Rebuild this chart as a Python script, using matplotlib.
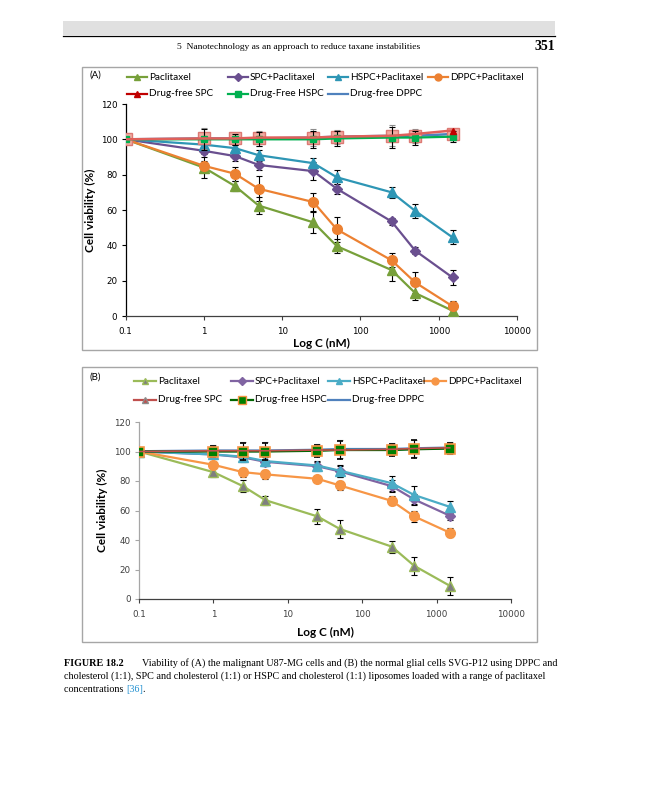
import matplotlib
matplotlib.use('Agg')
import matplotlib.pyplot as plt
from matplotlib.lines import Line2D
from matplotlib.patches import Rectangle

W, H = 647, 800

# concentrations (nM), shared by both panels
conc = [0.1, 1, 2.5, 5, 25, 50, 250, 500, 1500]

# panel A: U87-MG cells
a_ptx = [100, 84, 73.5, 62.5, 53, 39.5, 26, 13, 3]
a_ptx_err = [1, 6, 3, 5, 6, 4, 6, 4, 2]
a_spc = [100, 93.5, 90.5, 85.5, 82, 72, 53.5, 37, 21.8]
a_spc_err = [1, 2, 3, 3, 5, 3, 2, 2, 4]
a_hspc = [100, 97, 95, 91, 86.5, 78.5, 70, 59.5, 44.5]
a_hspc_err = [1, 2, 2, 3, 3, 4, 3, 4, 4]
a_dppc = [100, 85, 80.5, 72, 64.5, 49, 31.5, 19, 5.5]
a_dppc_err = [1, 3, 4, 7, 5, 7, 4, 6, 3]
a_free_spc = [100, 100.5, 100.5, 101, 101, 101.5, 102, 103, 105]
a_free_hspc = [100, 100, 100, 100, 100, 100.5, 101, 101, 101.5]
a_free_dppc = [100, 100.5, 100.5, 100.5, 101, 101.5, 102, 102, 103]
a_free_err = [1, 6, 3, 4, 5, 4, 6, 4, 3]

# panel B: SVG-P12 cells
b_ptx = [100, 86, 76.5, 67, 56, 47.5, 35.5, 22.5, 9]
b_ptx_err = [1, 3, 4, 3, 5, 6, 4, 6, 6]
b_spc = [100, 98, 96, 93, 90, 86.5, 76.5, 67.5, 56.5]
b_spc_err = [1, 2, 3, 3, 3, 4, 4, 4, 3]
b_hspc = [100, 98, 96.5, 93.5, 90.5, 87, 78.5, 70.5, 62.5]
b_hspc_err = [1, 2, 3, 3, 3, 4, 5, 6, 4]
b_dppc = [100, 91, 86, 84.5, 81.5, 77, 66.5, 56, 45]
b_dppc_err = [1, 2, 3, 3, 2, 3, 3, 4, 3]
b_free_spc = [100, 100.5, 100.5, 100.5, 101, 101, 101.5, 102, 102.5]
b_free_hspc = [100, 100, 100, 100, 100.5, 101, 101, 101.5, 102]
b_free_dppc = [100, 100.5, 100.5, 100.5, 101, 101.5, 101.5, 102, 102.5]
b_free_err = [1, 4, 6, 6, 4, 6, 4, 6, 4]

labels_a = ['Paclitaxel', 'SPC+Paclitaxel', 'HSPC+Paclitaxel', 'DPPC+Paclitaxel',
            'Drug-free SPC', 'Drug-Free HSPC', 'Drug-free DPPC']
labels_b = ['Paclitaxel', 'SPC+Paclitaxel', 'HSPC+Paclitaxel', 'DPPC+Paclitaxel',
            'Drug-free SPC', 'Drug-free HSPC', 'Drug-free DPPC']
ticks_x = [0.1, 1, 10, 100, 1000, 10000]
ticks_x_lbl = ['0.1', '1', '10', '100', '1000', '10000']
ticks_y = [0, 20, 40, 60, 80, 100, 120]

UI = ['Lato', 'DejaVu Sans']
SERIF = ['Liberation Serif', 'DejaVu Serif']


def fx(x):
    return x / W


def fy(y):
    return 1 - y / H


def px_axes(fig, x0, y0, x1, y1):
    # pixel box (top-left origin) -> figure fraction axes
    return fig.add_axes([fx(x0), fy(y1), (x1 - x0) / W, (y1 - y0) / H])


def px_box(fig, x0, y0, x1, y1, color='#a6a6a6'):
    fig.patches.append(Rectangle((fx(x0), fy(y1)), (x1 - x0) / W, (y1 - y0) / H,
                                 transform=fig.transFigure, fill=False,
                                 edgecolor=color, lw=1.0))


def legend_entry(fig, x, y, label, line_kw, mark_kw=None, hl=20):
    # excel-style legend entry: short line, marker in the middle, label after it
    fig.add_artist(Line2D([fx(x), fx(x + hl)], [fy(y)] * 2, **line_kw))
    if mark_kw:
        fig.add_artist(Line2D([fx(x + hl / 2)], [fy(y)], lw=0, **mark_kw))
    fig.text(fx(x + hl + 2), fy(y), label, fontsize=7.2, family=UI, va='center')


def style_axes(ax, axis_color, tick_color):
    ax.set_xscale('log')
    ax.set_xlim(0.1, 10000)
    ax.set_ylim(0, 120)
    ax.set_xticks(ticks_x)
    ax.set_xticklabels(ticks_x_lbl)
    ax.set_xticks([], minor=True)
    ax.set_yticks(ticks_y)
    for s in ['top', 'right']:
        ax.spines[s].set_visible(False)
    ax.spines['left'].set_color(axis_color)
    ax.spines['bottom'].set_color('#404040')
    ax.spines['left'].set_linewidth(0.9)
    ax.spines['bottom'].set_linewidth(0.9)
    ax.tick_params(axis='y', direction='out', length=3, width=0.8, color=axis_color,
                   labelsize=6.3, labelcolor=tick_color, pad=3)
    ax.tick_params(axis='x', direction='out', length=3, width=0.8, color='#404040',
                   labelsize=6.3, labelcolor=tick_color, pad=5)
    for t in ax.get_xticklabels() + ax.get_yticklabels():
        t.set_family('DejaVu Sans')
    ax.patch.set_alpha(0)


fig = plt.figure(figsize=(W / 100, H / 100), dpi=100)

# page header
fig.patches.append(Rectangle((fx(63), fy(35)), (555 - 63) / W, 14 / H,
                             transform=fig.transFigure, color='#e0e0e0', lw=0))
fig.add_artist(Line2D([fx(63), fx(555)], [fy(35.5)] * 2, color='black', lw=0.9))
fig.text(fx(299), fy(47), '5  Nanotechnology as an approach to reduce taxane instabilities',
         ha='center', va='center', fontsize=6.8, family=SERIF)
fig.text(fx(555), fy(46), '351', ha='right', va='center', fontsize=10,
         family=SERIF, weight='bold')

drug_kw = dict(ecolor='black', elinewidth=0.8, capsize=2.5, capthick=0.8, lw=1.6)

# ---------- panel A ----------
px_box(fig, 82, 67, 537, 350)
axA = px_axes(fig, 125.7, 104, 517, 316)
style_axes(axA, 'black', 'black')

axA.errorbar(conc, a_free_dppc, yerr=a_free_err, color='#4f81bd', marker='s', ms=8,
             mfc='#f2aaa2', mec='#dc7a74', ecolor='#8c8c8c', elinewidth=0.8, capsize=2.5,
             capthick=0.8, lw=1.8, zorder=5)
axA.errorbar(conc, a_free_hspc, yerr=a_free_err, color='#00b050', marker='s', ms=4.5,
             mfc='#00b050', mec='#00b050', zorder=6, **drug_kw)
axA.plot(conc, a_free_spc, color='#e0605a', lw=1.8, zorder=7)
axA.plot(conc[-1:], a_free_spc[-1:], color='#c00000', marker='^', ms=4, lw=0, zorder=7)

axA.errorbar(conc, a_ptx, yerr=a_ptx_err, color='#77a03a', marker='^', ms=7, zorder=3, **drug_kw)
axA.errorbar(conc, a_spc, yerr=a_spc_err, color='#6a4f8f', marker='D', ms=5, zorder=3, **drug_kw)
axA.errorbar(conc, a_hspc, yerr=a_hspc_err, color='#2e96b5', marker='^', ms=7, zorder=3, **drug_kw)
axA.errorbar(conc, a_dppc, yerr=a_dppc_err, color='#ec8132', marker='o', ms=7, zorder=3, **drug_kw)

axA.set_ylabel('Cell viability (%)', family=UI, weight='bold', fontsize=8.5, labelpad=3)
axA.set_xlabel('Log C (nM)', family=UI, weight='bold', fontsize=8.5, labelpad=1)

la = dict(lw=1.6)
legend_entry(fig, 127, 77, labels_a[0], dict(la, color='#77a03a'), dict(marker='^', ms=5, color='#77a03a'))
legend_entry(fig, 228, 77, labels_a[1], dict(la, color='#6a4f8f'), dict(marker='D', ms=4, color='#6a4f8f'))
legend_entry(fig, 328, 77, labels_a[2], dict(la, color='#2e96b5'), dict(marker='^', ms=5, color='#2e96b5'))
legend_entry(fig, 428, 77, labels_a[3], dict(la, color='#ec8132'), dict(marker='o', ms=5, color='#ec8132'))
legend_entry(fig, 127, 94, labels_a[4], dict(la, color='#c00000'), dict(marker='^', ms=5, color='#c00000'))
legend_entry(fig, 228, 94, labels_a[5], dict(la, color='#00b050'), dict(marker='s', ms=4.5, color='#00b050'))
legend_entry(fig, 328, 94, labels_a[6], dict(la, color='#4f81bd'))

fig.text(fx(89), fy(75), '(A)', fontsize=7, family=UI, va='center')

# ---------- panel B ----------
px_box(fig, 82, 367, 537, 642)
axB = px_axes(fig, 139, 422, 511, 599)
style_axes(axB, '#a6a6a6', '#404040')

axB.errorbar(conc, b_free_dppc, yerr=b_free_err, color='#4f81bd', lw=2.0, ecolor='#8c8c8c',
             elinewidth=0.8, capsize=2.5, capthick=0.8, zorder=4)
axB.errorbar(conc, b_free_hspc, yerr=b_free_err, color='#006600', marker='s', ms=7.5,
             mfc='#008000', mec='#f79646', mew=1.2, zorder=5, **drug_kw)
axB.plot(conc, b_free_spc, color='#c0504d', lw=1.2, zorder=6)

axB.errorbar(conc, b_ptx, yerr=b_ptx_err, color='#9bbb59', marker='^', ms=7, mfc='#7f7f7f',
             mec='#9bbb59', zorder=3, **drug_kw)
axB.errorbar(conc, b_spc, yerr=b_spc_err, color='#8064a2', marker='D', ms=5, zorder=3, **drug_kw)
axB.errorbar(conc, b_hspc, yerr=b_hspc_err, color='#4bacc6', marker='^', ms=7, zorder=3, **drug_kw)
axB.errorbar(conc, b_dppc, yerr=b_dppc_err, color='#f79646', marker='o', ms=7, zorder=3, **drug_kw)

axB.set_ylabel('Cell viability (%)', family=UI, weight='bold', fontsize=8.5, labelpad=4)
axB.set_xlabel('Log C (nM)', family=UI, weight='bold', fontsize=8.5, labelpad=6)

lb = dict(lw=1.6)
legend_entry(fig, 134, 381, labels_b[0], dict(lb, color='#9bbb59'),
             dict(marker='^', ms=5, mfc='#7f7f7f', mec='#9bbb59'), hl=22)
legend_entry(fig, 231, 381, labels_b[1], dict(lb, color='#8064a2'), dict(marker='D', ms=4, color='#8064a2'), hl=22)
legend_entry(fig, 328, 381, labels_b[2], dict(lb, color='#4bacc6'), dict(marker='^', ms=5, color='#4bacc6'), hl=22)
legend_entry(fig, 424, 381, labels_b[3], dict(lb, color='#f79646'), dict(marker='o', ms=5, color='#f79646'), hl=22)
legend_entry(fig, 134, 400, labels_b[4], dict(lb, color='#c0504d'),
             dict(marker='^', ms=5, mfc='#c0504d', mec='#8c8c8c'), hl=22)
legend_entry(fig, 231, 400, labels_b[5], dict(lb, color='#006600'),
             dict(marker='s', ms=5.5, mfc='#008000', mec='#f79646'), hl=22)
legend_entry(fig, 328, 400, labels_b[6], dict(lb, color='#4f81bd'), hl=22)

fig.text(fx(89), fy(377), '(B)', fontsize=7, family=UI, va='center')

# ---------- caption ----------
cap_fs = 7.3
fig.text(fx(64), fy(663), 'FIGURE 18.2', fontsize=cap_fs, family=SERIF, weight='bold', va='center')
fig.text(fx(142), fy(663),
         'Viability of (A) the malignant U87-MG cells and (B) the normal glial cells SVG-P12 using DPPC and',
         fontsize=cap_fs, family=SERIF, va='center')
fig.text(fx(64), fy(676),
         'cholesterol (1:1), SPC and cholesterol (1:1) or HSPC and cholesterol (1:1) liposomes loaded with a range of paclitaxel',
         fontsize=cap_fs, family=SERIF, va='center')
t3 = fig.text(fx(64), fy(689), 'concentrations ', fontsize=cap_fs, family=SERIF, va='center')
r = fig.canvas.get_renderer()
bb = t3.get_window_extent(renderer=r)
t4 = fig.text(bb.x1 / fig.bbox.width, fy(689), '[36]', fontsize=cap_fs, family=SERIF,
              va='center', color='#1f8fd0')
bb2 = t4.get_window_extent(renderer=r)
fig.text(bb2.x1 / fig.bbox.width, fy(689), '.', fontsize=cap_fs, family=SERIF, va='center')

fig.savefig('out.png', dpi=100)
